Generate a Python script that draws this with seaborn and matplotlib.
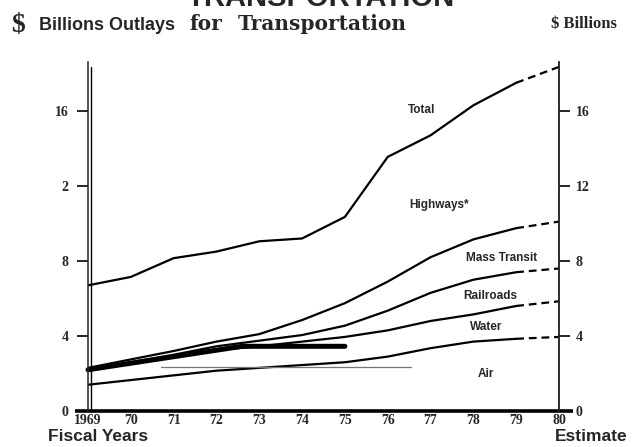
import matplotlib
matplotlib.use("Agg")
import matplotlib.pyplot as plt
import matplotlib.transforms as mtransforms
import pandas as pd
import seaborn as sns

# fiscal years and cumulative outlays ($ billions)
years = [1969, 1970, 1971, 1972, 1973, 1974, 1975, 1976, 1977, 1978, 1979, 1980]
cum_total = [6.7, 7.15, 8.15, 8.5, 9.05, 9.2, 10.35, 13.55, 14.7, 16.3, 17.5, 18.35]
cum_mass_transit = [2.3, 2.75, 3.2, 3.7, 4.1, 4.85, 5.75, 6.9, 8.2, 9.15, 9.75, 10.1]
cum_railroads = [2.2, 2.6, 3.0, 3.45, 3.75, 4.05, 4.55, 5.35, 6.3, 7.0, 7.4, 7.6]
cum_water = [2.15, 2.55, 2.9, 3.25, 3.45, 3.7, 3.95, 4.3, 4.8, 5.15, 5.6, 5.85]
cum_air = [1.4, 1.65, 1.9, 2.15, 2.3, 2.45, 2.6, 2.9, 3.35, 3.7, 3.85, 3.95]
first_estimate = 1979  # dashed from here on

# band labels: (text, year, value)
band_labels = [("Total", 1976.8, 16.05), ("Highways*", 1977.2, 11.0),
               ("Mass Transit", 1978.65, 8.15), ("Railroads", 1978.4, 6.13),
               ("Water", 1978.3, 4.48), ("Air", 1978.3, 1.97)]

left_ticks = [0, 4, 8, 12, 16]
left_ticklabels = ["0", "4", "8", "2", "16"]
right_ticklabels = ["0", "4", "8", "12", "16"]
x_ticklabels = ["1969", "70", "71", "72", "73", "74", "75", "76", "77", "78", "79", "80"]

# marks left by the scan
smear_x = [1969, 1972.6, 1975.0]
smear_y = [2.2, 3.45, 3.45]
grey_x = [1970.7, 1976.55]
grey_y = [2.35, 2.35]

sns.set_style("white")
plt.rcParams["font.family"] = ["Liberation Sans", "DejaVu Sans"]

W, H = 637, 447
fig = plt.figure(figsize=(W / 100, H / 100), dpi=100)
ax = fig.add_axes([88 / W, 1 - 411 / H, (559 - 88) / W, (411 - 62) / H])
ax.set_xlim(1969, 1980)
ax.set_ylim(0, 18.61)

df = pd.DataFrame({"year": years, "total": cum_total, "mt": cum_mass_transit,
                   "rr": cum_railroads, "water": cum_water, "air": cum_air})
solid = df[df.year <= first_estimate]
dashed = df[df.year >= first_estimate]
for col in ["total", "mt", "rr", "water", "air"]:
    sns.lineplot(data=solid, x="year", y=col, ax=ax, color="black", lw=1.6)
    sns.lineplot(data=dashed, x="year", y=col, ax=ax, color="black", lw=1.6,
                 linestyle=(0, (3.5, 2.2)))

sns.lineplot(x=smear_x, y=smear_y, ax=ax, color="black", lw=3.6, clip_on=False)
sns.lineplot(x=grey_x, y=grey_y, ax=ax, color="#777777", lw=0.9)

for text, x, y in band_labels:
    ax.text(x, y, text, ha="center", va="center", fontsize=8.5, fontweight="bold")

# axes frame
ax.spines["top"].set_visible(False)
ax.spines["left"].set_linewidth(1.1)
ax.spines["right"].set_linewidth(1.1)
ax.spines["bottom"].set_visible(False)
ax.plot([1968.7, 1980.33], [0, 0], color="black", lw=2.6, clip_on=False,
        solid_capstyle="butt")
off = mtransforms.offset_copy(ax.get_xaxis_transform(), fig=fig, x=3, y=0, units="dots")
ax.plot([1969, 1969], [0, 0.985], color="black", lw=1.0, transform=off, clip_on=False)

serif = ["Liberation Serif", "DejaVu Serif"]
ax.set_xticks(years)
ax.set_xticklabels(x_ticklabels, fontfamily=serif, fontweight="bold", fontsize=10)
ax.tick_params(axis="x", direction="in", length=9, width=1.2, pad=2.5, color="black")
ax.set_yticks(left_ticks)
ax.set_yticklabels(left_ticklabels, fontfamily=serif, fontweight="bold", fontsize=10)
ax.tick_params(axis="y", direction="out", length=8, width=1.2, pad=6, left=True,
               color="black")
ax.set_xlabel("")
ax.set_ylabel("")

ax2 = ax.twinx()
ax2.set_ylim(ax.get_ylim())
ax2.set_yticks(left_ticks)
ax2.set_yticklabels(right_ticklabels, fontfamily=serif, fontweight="bold", fontsize=10)
ax2.tick_params(axis="y", direction="out", length=8, width=1.2, pad=4, right=True,
                color="black")
for s in ["top", "left", "bottom"]:
    ax2.spines[s].set_visible(False)
ax2.spines["right"].set_linewidth(1.1)

# header and footer text
fig.text(321 / W, 1 - 6 / H, "TRANSPORTATION", ha="center", va="baseline",
         fontsize=21, fontweight="bold")
fig.text(11 / W, 1 - 32 / H, "$", fontsize=20, fontweight="bold", fontfamily=serif)
fig.text(39 / W, 1 - 30 / H, "Billions Outlays", fontsize=13, fontweight="bold")
fig.text(189 / W, 1 - 30 / H, "for", fontsize=14.5, fontweight="bold",
         fontfamily=["DejaVu Serif"])
fig.text(238 / W, 1 - 30 / H, "Transportation", fontsize=14.5, fontweight="bold",
         fontfamily=["DejaVu Serif"])
fig.text(551 / W, 1 - 28 / H, "$ Billions", fontsize=12, fontweight="bold",
         fontfamily=serif)
fig.text(48 / W, 1 - 441 / H, "Fiscal Years", fontsize=12.5, fontweight="bold")
fig.text(555 / W, 1 - 441 / H, "Estimate", fontsize=12.5, fontweight="bold")

fig.savefig("out.png", dpi=100)
